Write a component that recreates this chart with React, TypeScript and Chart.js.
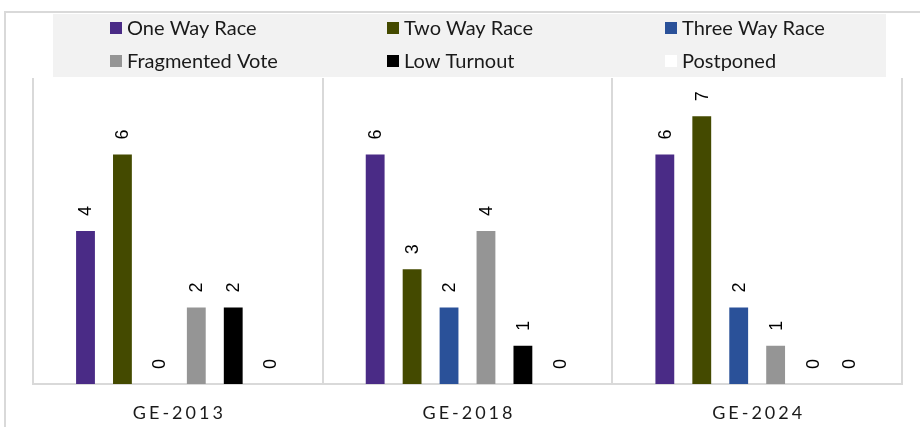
import React, { useEffect, useRef } from "react";
import { Chart, registerables } from "chart.js";

Chart.register(...registerables);

const categories = ["GE-2013", "GE-2018", "GE-2024"];
const seriesNames = ["One Way Race", "Two Way Race", "Three Way Race", "Fragmented Vote", "Low Turnout", "Postponed"];
const oneWay = [4, 6, 6];
const twoWay = [6, 3, 7];
const threeWay = [0, 2, 2];
const fragmented = [2, 4, 1];
const lowTurnout = [2, 1, 0];
const postponed = [0, 0, 0];
const seriesColors = ["#4a2b86", "#444a00", "#2a5199", "#959595", "#000000", "#ffffff"];

const frameAndLegend = {
  id: "frameAndLegend",
  beforeDraw(chart: any) {
    const ctx = chart.ctx;
    ctx.save();
    ctx.strokeStyle = "#d9d9d9";
    ctx.lineWidth = 2;
    ctx.beginPath();
    ctx.moveTo(5, 440);
    ctx.lineTo(5, 12);
    ctx.lineTo(930, 12);
    ctx.stroke();
    ctx.fillStyle = "#f2f2f2";
    ctx.fillRect(53, 14, 833, 63);
    const cols = [110, 387, 665];
    const rows = [28, 61];
    ctx.font = "20px Lato, 'Open Sans', sans-serif";
    ctx.textBaseline = "middle";
    ctx.textAlign = "left";
    chart.data.datasets.forEach((ds: any, i: number) => {
      const x = cols[i % 3];
      const y = rows[Math.floor(i / 3)];
      ctx.fillStyle = ds.backgroundColor;
      ctx.fillRect(x, y - 6, 12, 12);
      ctx.fillStyle = "#1a1a1a";
      ctx.fillText(ds.label, x + 17, y + 1);
    });
    ctx.restore();
  },
  afterDraw(chart: any) {
    const ctx = chart.ctx;
    ctx.save();
    // rotated data labels
    ctx.font = "18px 'Liberation Sans', Arial, sans-serif";
    ctx.fillStyle = "#000";
    ctx.textBaseline = "middle";
    ctx.textAlign = "left";
    chart.data.datasets.forEach((ds: any, di: number) => {
      const meta = chart.getDatasetMeta(di);
      meta.data.forEach((bar: any, i: number) => {
        ctx.save();
        ctx.translate(bar.x + 1, bar.y - 15);
        ctx.rotate(-Math.PI / 2);
        ctx.fillText(String(ds.data[i]), 0, 0);
        ctx.restore();
      });
    });
    // x labels with letter spacing
    const xs = chart.scales.x;
    ctx.font = "18px Lato, 'Open Sans', sans-serif";
    (ctx as any).letterSpacing = "3px";
    ctx.fillStyle = "#1a1a1a";
    ctx.textAlign = "center";
    ctx.textBaseline = "middle";
    chart.data.labels.forEach((lab: string, i: number) => {
      ctx.fillText(lab, xs.getPixelForValue(i) + 1.5, 413);
    });
    ctx.restore();
  },
};

export default function App() {
  const ref = useRef<HTMLCanvasElement | null>(null);
  useEffect(() => {
    if (!ref.current) return;
    const data = [oneWay, twoWay, threeWay, fragmented, lowTurnout, postponed];
    const chart = new Chart(ref.current, {
      type: "bar",
      data: {
        labels: categories,
        datasets: seriesNames.map((name, i) => ({
          label: name,
          data: data[i],
          backgroundColor: seriesColors[i],
          borderWidth: 0,
          barPercentage: 0.51,
          categoryPercentage: 0.765,
        })),
      },
      options: {
        animation: false,
        responsive: false,
        maintainAspectRatio: false,
        layout: { padding: { left: 33, right: 18, top: 78, bottom: 43 } },
        plugins: { legend: { display: false }, tooltip: { enabled: false } },
        scales: {
          x: {
            ticks: { display: false },
            grid: { display: true, offset: true, color: "#d9d9d9", lineWidth: 2, drawTicks: false },
            border: { display: true, color: "#d9d9d9", width: 2 },
          },
          y: {
            display: false,
            min: 0,
            max: 8,
          },
        },
      },
      plugins: [frameAndLegend],
    });
    return () => chart.destroy();
  }, []);
  return (
    <div style={{ position: "fixed", left: 0, top: 0, width: 920, height: 427, background: "#fff" }}>
      <canvas ref={ref} width={920} height={427} style={{ width: 920, height: 427 }} />
    </div>
  );
}
